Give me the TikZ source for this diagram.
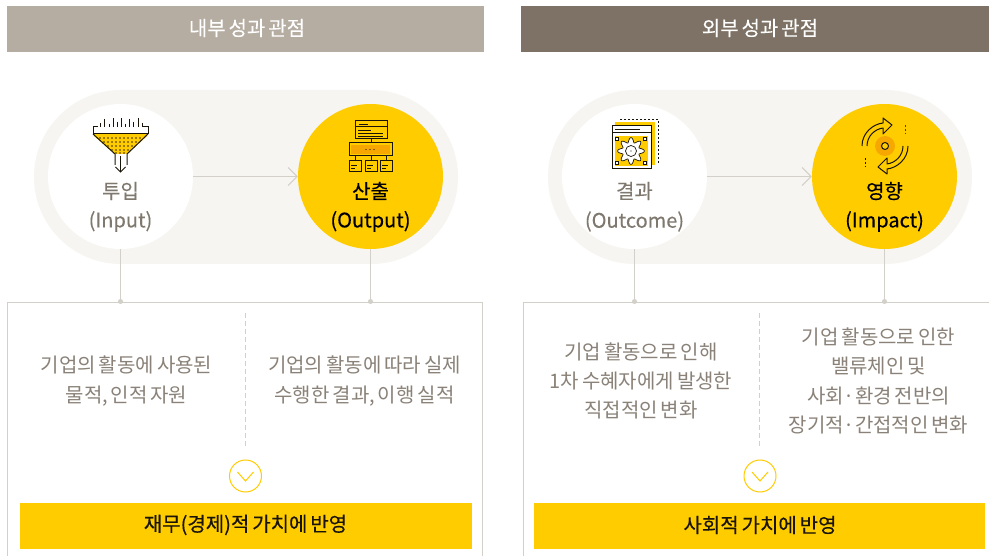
\documentclass[tikz,border=0pt]{standalone}
\usepackage{fontspec}
\setmainfont[WordSpace=0.65]{Noto Sans CJK KR}
\newfontfamily\krmed[FakeBold=0.25,WordSpace=0.65]{Noto Sans CJK KR}
\newfontfamily\krcap[FakeBold=0.08,WordSpace=0.65]{Noto Sans CJK KR}
\usetikzlibrary{arrows.meta}
\definecolor{hdA}{HTML}{B5ADA2}
\definecolor{hdB}{HTML}{7D7265}
\definecolor{pillc}{HTML}{F6F5F1}
\definecolor{yel}{HTML}{FFCC00}
\definecolor{org}{HTML}{F7A800}
\definecolor{linec}{HTML}{D3CFC9}
\definecolor{txt}{HTML}{8A8278}
\definecolor{ink}{HTML}{1A1408}
\tikzset{
  x=1pt,y=-1pt,
  header/.style={fill=#1,draw=none,minimum height=46pt,inner sep=0pt},
  headtext/.style={inner sep=0pt,text=white,font=\fontsize{20}{24}\krcap\selectfont},
  disc/.style={circle,minimum size=145pt,inner sep=0pt},
  cap1/.style={font=\fontsize{20}{24}\krcap\selectfont,inner sep=0pt,text=txt!92!black},
  cap2/.style={font=\fontsize{20}{24}\krmed\selectfont,inner sep=0pt,text=black},
  conn/.style={draw=linec,line width=1pt},
  flow/.style={conn,-{Straight Barb[length=9pt,width=18pt,line width=1pt]}},
  enddot/.style={circle,fill=linec,minimum size=5pt,inner sep=0pt},
  desc/.style={align=center,inner sep=0pt,text=txt,font=\fontsize{20}{29.3}\selectfont},
  barbox/.style={fill=yel,minimum height=46pt,inner sep=0pt},
  bartext/.style={inner sep=0pt,text=ink,font=\fontsize{20}{24}\krmed\selectfont},
  downc/.style={circle,draw=yel,fill=white,line width=1pt,minimum size=32pt,inner sep=0pt},
  icon/.style={draw=ink,line width=1pt},
  thinl/.style={draw=ink,line width=.7pt},
}
\begin{document}
\begin{tikzpicture}
\useasboundingbox (0,0) rectangle (989,556);
\fill[white] (0,0) rectangle (989,556);
% headers
\node[header=hdA,minimum width=477pt] (h1) at (245.5,29) {};
\node[header=hdB,minimum width=468pt] (h2) at (755,29) {};
\node[headtext] (h1t) at (247,28) {내부 성과 관점};
\node[headtext] (h2t) at (760,28) {외부 성과 관점};
% pills
\fill[pillc,rounded corners=87pt] (34,90) rectangle (458,264);
\fill[pillc,rounded corners=87pt] (548,90) rectangle (972,264);
% lower boxes
\draw[conn] (7.5,556) -- (7.5,302.5) -- (482,302.5) -- (482,556);
\draw[conn] (523,556) -- (523,302.5) -- (989,302.5);
% discs
\node[disc,fill=white] (input) at (120.5,176.5) {};
\node[disc,fill=yel] (output) at (370.5,176.5) {};
\node[disc,fill=white] (outcome) at (634.5,176.5) {};
\node[disc,fill=yel] (impact) at (884.5,176.5) {};
\draw[flow] (input) -- (output);
\draw[flow] (outcome) -- (impact);
\node[enddot] (d1) at (120.5,301.5) {};
\node[enddot] (d2) at (370.5,301.5) {};
\node[enddot] (d3) at (634.5,301.5) {};
\node[enddot] (d4) at (884.5,301.5) {};
\draw[conn] (input) -- (d1);
\draw[conn] (output) -- (d2);
\draw[conn] (outcome) -- (d3);
\draw[conn] (impact) -- (d4);
% captions
\node[cap1] (c1a) at (120.5,191) {투입};
\node[cap1] (c1b) at (120.5,221.5) {(Input)};
\node[cap2] (c2a) at (370.5,191) {산출};
\node[cap2] (c2b) at (370.5,221.5) {(Output)};
\node[cap1] (c3a) at (634.5,191) {결과};
\node[cap1] (c3b) at (634.5,221.5) {(Outcome)};
\node[cap2] (c4a) at (884.5,191) {영향};
\node[cap2] (c4b) at (884.5,221.5) {(Impact)};
% descriptions
\node[desc] (t1) at (126.5,381) {기업의 활동에 사용된\\물적, 인적 자원};
\node[desc] (t2) at (364.5,381) {기업의 활동에 따라 실제\\수행한 결과, 이행 실적};
\node[desc] (t3) at (641,381) {기업 활동으로 인해\\1차 수혜자에게 발생한\\직접적인 변화};
\node[desc] (t4) at (878.5,381) {기업 활동으로 인한\\밸류체인 및\\사회·환경 전반의\\장기적·간접적인 변화};
% dividers and chevrons
\node[downc] (v1) at (245.5,476) {};
\node[downc] (v2) at (760,476) {};
\coordinate (top1) at (245.5,313);
\coordinate (end1) at (245.5,448);
\coordinate (top2) at (759,313);
\coordinate (end2) at (759,448);
\draw[draw=linec,line width=1pt,dash pattern=on 5pt off 3pt] (top1) -- (end1);
\draw[draw=linec,line width=1pt,dash pattern=on 5pt off 3pt] (top2) -- (end2);
\draw[yel,line width=1pt] (237.5,472) -- (245.5,481) -- (253.5,472);
\draw[yel,line width=1pt] (752,472) -- (760,481) -- (768,472);
% bars
\node[barbox,minimum width=452pt] (b1) at (246,526) {};
\node[barbox,minimum width=451pt] (b2) at (759.5,526) {};
\node[bartext] (b1t) at (245.5,525) {재무(경제)적 가치에 반영};
\node[bartext] (b2t) at (760,525) {사회적 가치에 반영};
% funnel icon
\fill[yel] (94,134) -- (147,134) -- (147,136) -- (127,154) -- (115,154) -- (94,136) -- cycle;
\draw[icon] (98,127) -- (93,127) -- (93,134) -- (148,134) -- (148,127) -- (143,127);
\draw[icon] (93,134) -- (115,154) -- (115,165);
\draw[icon] (148,134) -- (127,154) -- (127,165);
\draw[icon] (120.5,156) -- (120.5,172);
\draw[icon] (115.5,167) -- (120.5,172) -- (125.5,167);
\foreach \xx/\yy in {100/123,104.5/119,109/124,113/118,117/122,121.5/118,125/124,129/119,133.5/122,138/118,142/123}{
  \draw[draw=ink,line width=.7pt] (\xx,\yy) -- (\xx,127);
}
\foreach \yy/\aa/\nn/\bb in {138/100/104/140,142/104/108/136,146/108/112/132,150/112/116/128,153/116/120/124}{
  \foreach \xx in {\aa,\nn,...,\bb}{
    \fill[ink!85!org] (\xx,\yy) circle (.8pt);
  }
}
% output icon
\draw[icon,fill=yel] (355,121) rectangle (387,139);
\draw[icon] (355,127) -- (387,127);
\draw[thinl] (359,124) -- (368,124);
\draw[thinl] (358,130.5) -- (371,130.5);
\draw[thinl] (358,133.5) -- (383,133.5);
\draw[thinl] (358,136) -- (383,136);
\draw[icon] (371,139) -- (371,143);
\fill[org] (351,145) rectangle (390,154);
\draw[icon] (349,143) rectangle (392,156);
\draw[icon] (355,156) -- (355,161);
\draw[icon] (371,156) -- (371,161);
\draw[icon] (386,156) -- (386,161);
\foreach \xx in {349,365,380}{
  \draw[icon] (\xx,161) rectangle ++(12,11);
  \draw[thinl] (\xx+2,165) -- (\xx+8,165);
  \draw[thinl] (\xx+2,168) -- (\xx+6,168);
}
\foreach \xx in {366,370,374}{\fill[ink] (\xx,149.5) circle (.6pt);}
% outcome icon
\draw[ink,line width=1pt,dash pattern=on 2pt off 2pt] (620,119.5) -- (658,119.5) -- (658,164);
\fill[yel] (615,122) rectangle (655,165);
\draw[icon,fill=white] (612,126) rectangle (651,169);
\draw[icon] (612,133) -- (651,133);
\draw[thinl] (615,129.5) -- (640,129.5);
\fill[yel] (615,136) rectangle (648,166);
\begin{scope}[shift={(631,151)}]
\draw[thinl,fill=white,line join=round] plot[domain=0:360,samples=145] (\x:{11+2.4*cos(8*\x)});
\draw[thinl,fill=yel!0!white] (0,0) circle (5.5pt);
\fill[ink] (0,0) circle (.6pt);
\end{scope}
\foreach \xx/\yy in {617/139,645/139,617/163,645/163}{
  \draw[thinl,fill=white] (\xx-1.8,\yy-1.8) rectangle (\xx+1.8,\yy+1.8);
}
% impact icon
\fill[org] (885,146) circle (10pt);
\draw[icon,fill=yel] (885,146) circle (3.5pt);
\foreach \ang in {0,180}{
\begin{scope}[shift={(885,146)},rotate=\ang]
\draw[icon,line join=round] (-23,0) .. controls (-23,-13) and (-12,-22) .. (-2,-23)
  -- (-2,-28) -- (7,-21) -- (-2,-12) -- (-2,-18)
  .. controls (-10,-17) and (-18,-10) .. (-18,0);
\end{scope}
}
\draw[ink!70!org,line width=1pt,dash pattern=on 2pt off 2pt] (905,125) -- (905,134);
\draw[ink,line width=1pt,dash pattern=on 2pt off 2pt] (865,158) -- (865,167);
\end{tikzpicture}
\end{document}
